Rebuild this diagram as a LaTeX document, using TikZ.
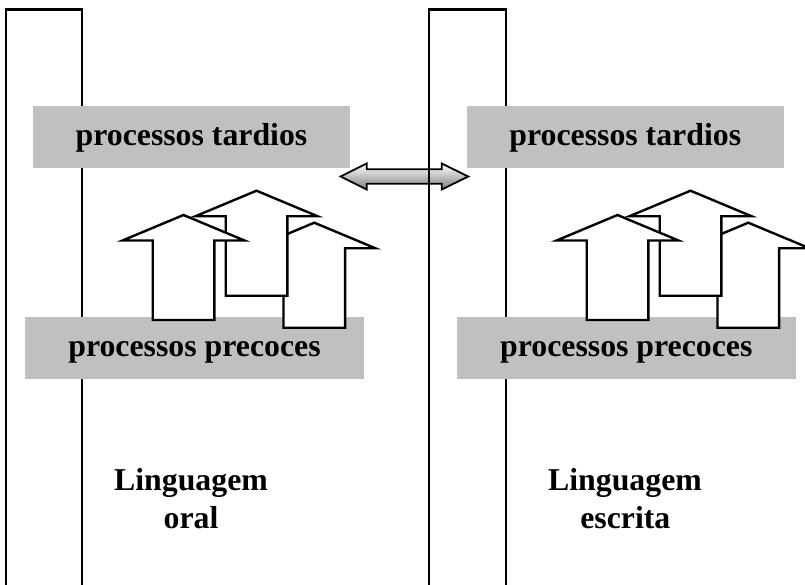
\documentclass[tikz,border=0pt]{standalone}
\usepackage{fontspec}
\setmainfont{Liberation Serif}
\definecolor{boxgray}{RGB}{192,192,192}
\tikzset{
  tallbar/.style={draw=black, line width=2.1pt},
  graybox/.style={fill=boxgray, draw=none, inner sep=0pt,
    text height=22pt, text depth=4.5pt,
    font=\fontsize{31.8pt}{37.3pt}\selectfont\bfseries},
  caption/.style={inner sep=0pt, anchor=base,
    font=\fontsize{31.8pt}{37.3pt}\selectfont\bfseries},
  blockline/.style={draw=black, fill=white, line width=2.4pt, line join=miter},
  linkline/.style={draw=black, line width=1.8pt, line join=miter,
    top color=white, bottom color=black!50},
  blockup/.pic={
    \path[blockline] (0,0) -- (61,25.5) -- (30.8,25.5) -- (30.8,105)
      -- (-30.8,105) -- (-30.8,25.5) -- (-61,25.5) -- cycle;
  }
}
\begin{document}
\begin{tikzpicture}[x=1pt,y=-1pt]
\useasboundingbox (0,0) rectangle (805,584);
\clip (0,0) rectangle (805,584);

% two-headed link between the upper levels
\coordinate (linkL) at (340.7,176.5);
\coordinate (linkR) at (468.3,176.5);
\path[linkline] (linkL) -- ++(26,-13) -- ++(0,5.8) -- ++(75,0) -- ++(0,-5.8)
  -- (linkR) -- ++(-26.6,13) -- ++(0,-5.8) -- ++(-75,0) -- ++(0,5.8) -- cycle;

% the two language columns
\draw[tallbar] (6,9.5) rectangle (82,600);
\draw[tallbar] (429,9.5) rectangle (506,600);

% level boxes
\node[graybox, minimum width=317pt, minimum height=62pt] (lateL) at (191.5,137) {processos tardios};
\node[graybox, minimum width=317.3pt, minimum height=62pt] (lateR) at (625.3,137) {processos tardios};
\node[graybox, minimum width=339pt, minimum height=62.6pt] (earlyL) at (194.5,348) {processos precoces};
\node[graybox, minimum width=339.3pt, minimum height=62.6pt] (earlyR) at (626.3,348) {processos precoces};

% upward block arrows, back to front
\pic (upCL) at (314.3,222.7) {blockup};
\pic (upBL) at (256.5,190.7) {blockup};
\pic (upAL) at (183.5,215) {blockup};
\pic (upCR) at (748.3,222.7) {blockup};
\pic (upBR) at (690.5,190.7) {blockup};
\pic (upAR) at (617.5,215) {blockup};

% column captions
\node[caption] (oralA) at (191,490.7) {Linguagem};
\node[caption] (oralB) at (191,528) {oral};
\node[caption] (writA) at (625,490.7) {Linguagem};
\node[caption] (writB) at (625.3,528) {escrita};
\end{tikzpicture}
\end{document}
